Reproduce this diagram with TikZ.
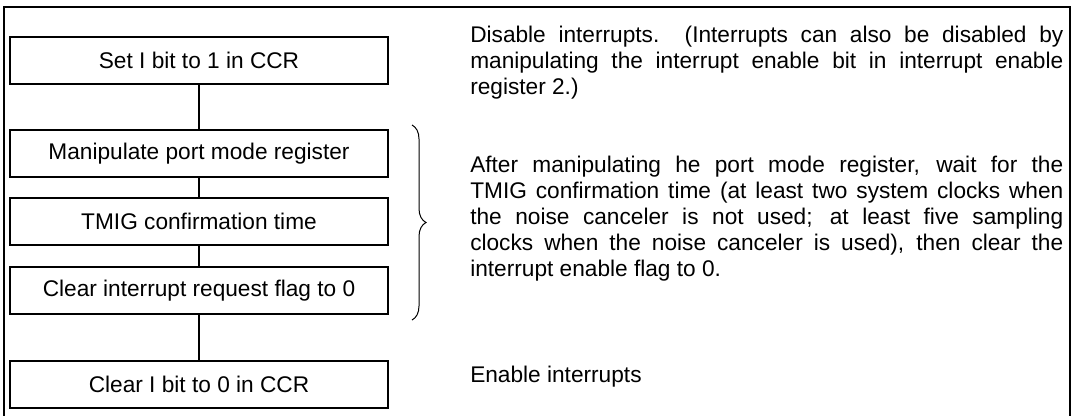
\documentclass[tikz,border=0pt]{standalone}
\usepackage{fontspec}
\setmainfont{Liberation Sans}
\usetikzlibrary{positioning,decorations.pathreplacing}

\begin{document}
\begin{tikzpicture}[
      x=0.75pt, y=-0.75pt,
      stepbox/.style={draw, line width=1.5pt, minimum width=283.5pt, minimum height=35.25pt, inner sep=0pt, font=\fontsize{17}{19.5}\selectfont},
      link/.style={line width=1.5pt},
      note/.style={anchor=base west, inner sep=0pt, text width=444.75pt, align=justify, font=\fontsize{17}{19.5}\selectfont}
    ]
    \useasboundingbox (0,0) rectangle (1074,415);
    % open frame round the whole figure
    \draw[line width=1.8pt] (4,430) -- (4,7) -- (1070,7) -- (1070,430);

    \node[stepbox] (setI) at (199,60.5) {Set I bit to 1 in CCR};
    \node[stepbox, below=33pt of setI] (portmode) {Manipulate port mode register};
    \node[stepbox, below=14.25pt of portmode] (tmig) {TMIG confirmation time};
    \node[stepbox, below=15pt of tmig] (clrflag) {Clear interrupt request flag to 0};
    \node[stepbox, below=33.75pt of clrflag] (clrI) {Clear I bit to 0 in CCR};

    \draw[link] (setI) -- (portmode);
    \draw[link] (portmode) -- (tmig);
    \draw[link] (tmig) -- (clrflag);
    \draw[link] (clrflag) -- (clrI);

    % brace over the three middle steps
    \coordinate (bracetop) at ([xshift=17.25pt, yshift=3pt]portmode.north east);
    \coordinate (bracebot) at ([xshift=17.25pt, yshift=-3.75pt]clrflag.south east);
    \draw[line width=0.75pt, decorate, decoration={brace, amplitude=10.5pt}] (bracetop) -- (bracebot);

    \node[note] (disnote) at (470,42) {Disable interrupts.\ \ (Interrupts can also be disabled by\linebreak manipulating the interrupt enable bit in interrupt enable\linebreak register 2.)};
    \node[note] (waitnote) at (470,172) {After manipulating he port mode register, wait for the\linebreak TMIG confirmation time (at least two system clocks when\linebreak the noise canceler is not used; at least five sampling\linebreak clocks when the noise canceler is used), then clear the\linebreak interrupt enable flag to 0.};
    \node[note] (ennote) at (470,382) {Enable interrupts};
\end{tikzpicture}
\end{document}
